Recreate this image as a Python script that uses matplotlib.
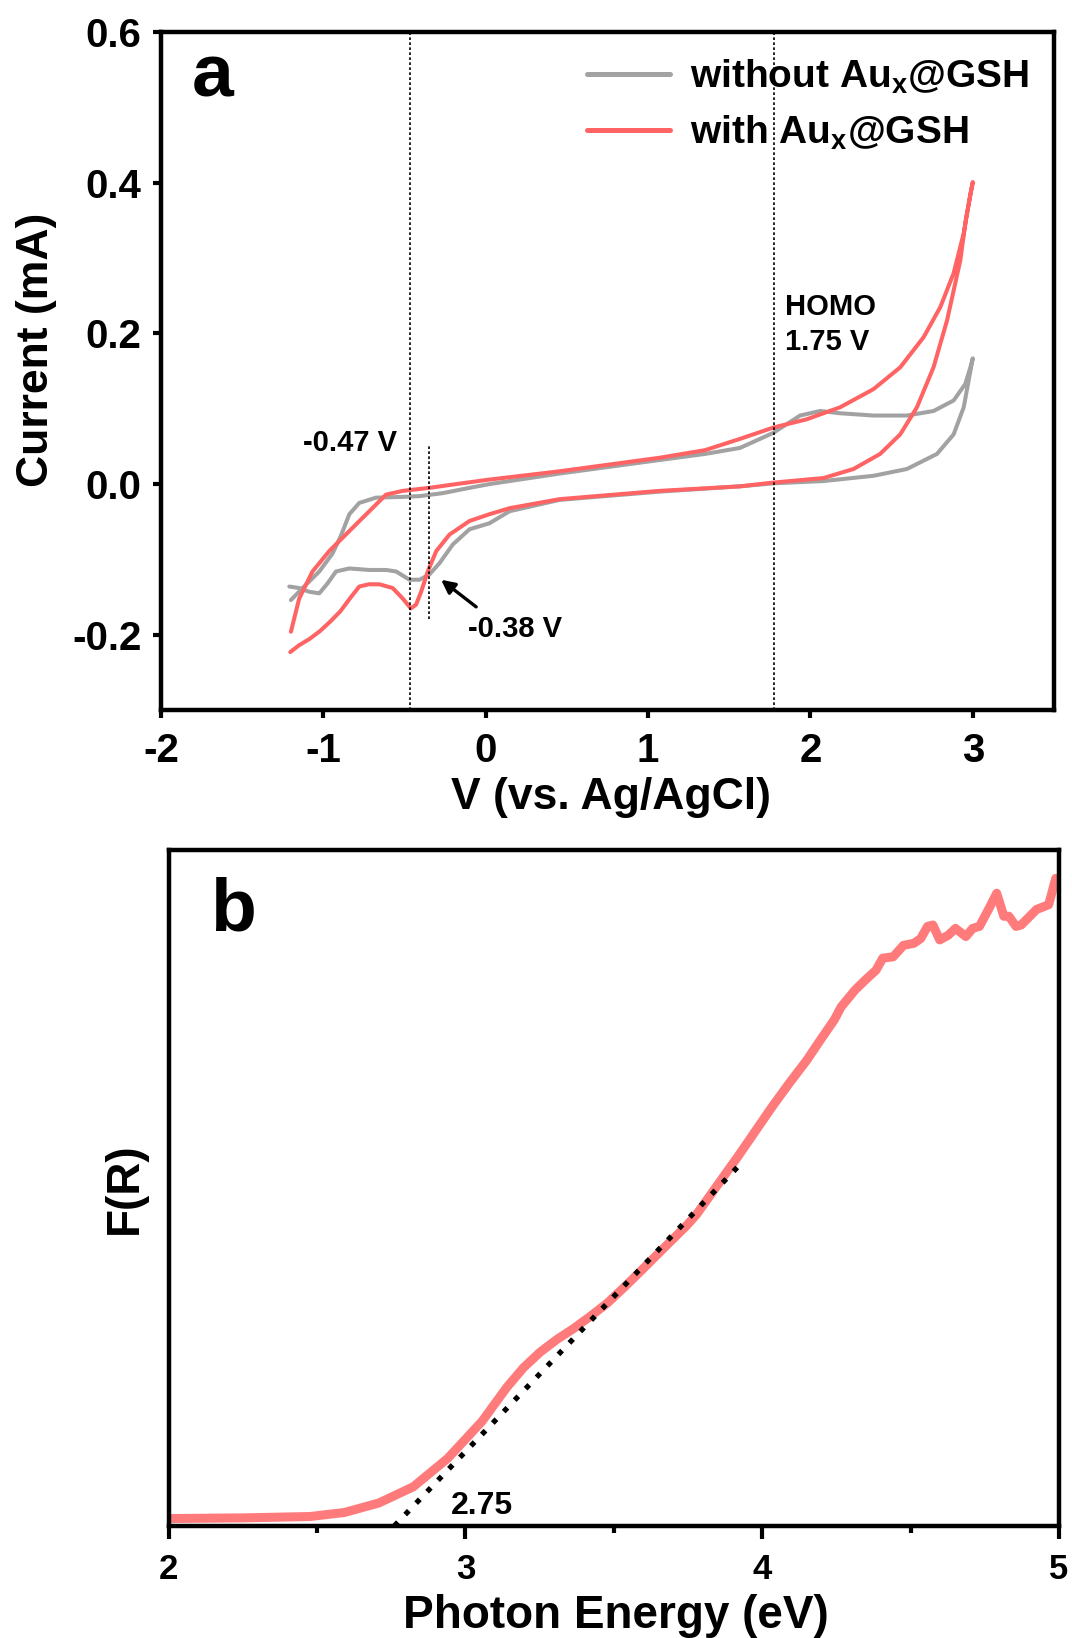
import matplotlib
matplotlib.use("Agg")
import matplotlib.pyplot as plt

plt.rcParams['font.family'] = ['Liberation Sans', 'DejaVu Sans']
plt.rcParams['font.weight'] = 'bold'
plt.rcParams['mathtext.fontset'] = 'custom'
plt.rcParams['mathtext.rm'] = 'Liberation Sans:bold'
plt.rcParams['mathtext.it'] = 'Liberation Sans:bold'
plt.rcParams['mathtext.bf'] = 'Liberation Sans:bold'

# ---------------- Panel a data: CV curves (V vs Ag/AgCl, current in mA) -------------
gray_fwd_v = [-1.200, -1.128, -1.025, -0.943, -0.891, -0.840, -0.779, -0.676, -0.511, -0.408,
              -0.264, -0.100, 0.023, 0.455, 1.072, 1.350, 1.566, 1.771, 1.936, 2.059, 2.183,
              2.388, 2.594, 2.758, 2.882, 2.954, 2.985, 3.000]
gray_fwd_i = [-0.154, -0.138, -0.116, -0.092, -0.068, -0.040, -0.025, -0.018, -0.017, -0.016,
              -0.012, -0.005, 0.000, 0.014, 0.032, 0.040, 0.048, 0.068, 0.091, 0.097, 0.094,
              0.091, 0.091, 0.097, 0.111, 0.133, 0.155, 0.167]
gray_rev_v = [3.000, 2.985, 2.944, 2.882, 2.779, 2.594, 2.388, 2.080, 1.771, 1.566, 1.072,
              0.455, 0.147, 0.023, -0.100, -0.202, -0.285, -0.347, -0.408, -0.470, -0.552,
              -0.614, -0.717, -0.840, -0.922, -0.975, -1.025, -1.087, -1.149, -1.210]
gray_rev_i = [0.167, 0.150, 0.102, 0.066, 0.040, 0.020, 0.011, 0.004, 0.001, -0.003, -0.010,
              -0.021, -0.036, -0.052, -0.060, -0.080, -0.105, -0.120, -0.127, -0.127, -0.116,
              -0.114, -0.114, -0.112, -0.116, -0.132, -0.145, -0.143, -0.138, -0.136]

red_fwd_v = [-1.200, -1.149, -1.067, -0.964, -0.820, -0.717, -0.614, -0.511, -0.347, -0.182,
             0.023, 0.455, 1.072, 1.350, 1.566, 1.771, 1.977, 2.183, 2.388, 2.553, 2.697,
             2.800, 2.882, 2.944, 2.985, 3.000]
red_fwd_i = [-0.196, -0.152, -0.116, -0.089, -0.058, -0.036, -0.014, -0.009, -0.005, 0.000,
             0.006, 0.017, 0.035, 0.045, 0.060, 0.075, 0.086, 0.102, 0.126, 0.155, 0.195,
             0.235, 0.280, 0.333, 0.385, 0.401]
red_rev_v = [3.000, 2.957, 2.923, 2.841, 2.758, 2.656, 2.553, 2.429, 2.265, 2.080, 1.771,
             1.566, 1.072, 0.455, 0.147, 0.023, -0.100, -0.223, -0.305, -0.357, -0.398,
             -0.429, -0.461, -0.511, -0.573, -0.655, -0.720, -0.779, -0.830, -0.896, -0.960,
             -1.020, -1.088, -1.150, -1.204]
red_rev_i = [0.401, 0.351, 0.297, 0.217, 0.155, 0.102, 0.066, 0.040, 0.020, 0.008, 0.002,
             -0.003, -0.009, -0.020, -0.032, -0.040, -0.049, -0.067, -0.089, -0.116, -0.143,
             -0.160, -0.165, -0.152, -0.138, -0.133, -0.133, -0.136, -0.150, -0.169, -0.183,
             -0.195, -0.206, -0.214, -0.223]

# ---------------- Panel b data: Kubelka-Munk F(R) vs photon energy ----------------
energy = [2.000, 2.250, 2.476, 2.592, 2.708, 2.824, 2.940, 3.056, 3.139, 3.195, 3.251, 3.308,
          3.364, 3.420, 3.476, 3.532, 3.588, 3.684, 3.742, 3.777, 3.917, 4.033, 4.091, 4.150,
          4.196, 4.243, 4.266, 4.313, 4.348, 4.383, 4.406, 4.441, 4.476, 4.511, 4.534, 4.557,
          4.575, 4.598, 4.627, 4.651, 4.686, 4.709, 4.732, 4.767, 4.790, 4.814, 4.831, 4.855,
          4.872, 4.895, 4.924, 4.965, 4.989, 5.000]
fr = [0.011, 0.012, 0.014, 0.020, 0.034, 0.058, 0.100, 0.155, 0.205, 0.234, 0.257, 0.276,
      0.292, 0.310, 0.329, 0.352, 0.376, 0.418, 0.443, 0.460, 0.546, 0.620, 0.655, 0.689,
      0.719, 0.749, 0.768, 0.793, 0.808, 0.822, 0.840, 0.842, 0.859, 0.862, 0.869, 0.887,
      0.889, 0.867, 0.874, 0.884, 0.872, 0.884, 0.887, 0.916, 0.936, 0.902, 0.902, 0.887,
      0.889, 0.899, 0.912, 0.919, 0.958, 0.953]
tangent_e = [2.760, 3.917]
tangent_f = [0.000, 0.531]

xticks_a = [-2, -1, 0, 1, 2, 3]
yticks_a = [-0.2, 0.0, 0.2, 0.4, 0.6]
xticks_b = [2, 3, 4, 5]
xminor_b = [2.5, 3.5, 4.5]

GRAY = '#a2a2a2'
RED = '#ff6363'
SALMON = '#ff7b7b'

fig = plt.figure(figsize=(10.72, 16.38), dpi=100)

# ---------------- Panel a ----------------
axa = fig.add_axes([0.1502, 0.5665, 0.8330, 0.4139])
axa.plot(gray_fwd_v + gray_rev_v[1:], gray_fwd_i + gray_rev_i[1:], color=GRAY, lw=2.9,
         label=r'without Au$_{x}$@GSH', solid_joinstyle='round', solid_capstyle='round')
axa.plot(red_fwd_v + red_rev_v[1:], red_fwd_i + red_rev_i[1:], color=RED, lw=2.9,
         label=r'with Au$_{x}$@GSH', solid_joinstyle='round', solid_capstyle='round')
dot = (0, (1.6, 1.4))
axa.axvline(-0.465, color='black', ls=dot, lw=1.2)
axa.axvline(1.777, color='black', ls=dot, lw=1.2)
axa.plot([-0.351, -0.351], [-0.179, 0.051], color='black', ls=dot, lw=1.2)
axa.set_xlim(-2, 3.5)
axa.set_ylim(-0.3, 0.6)
axa.set_xticks(xticks_a)
axa.set_xticklabels([f'{t:d}' for t in xticks_a])
axa.set_yticks(yticks_a)
axa.set_yticklabels([f'{t:.1f}' for t in yticks_a])
for s in axa.spines.values():
    s.set_linewidth(3.2)
axa.tick_params(direction='out', length=6, width=3, labelsize=29)
axa.tick_params(axis='x', pad=10)
axa.tick_params(axis='y', pad=8)
axa.set_xlabel('V (vs. Ag/AgCl)', fontsize=32, fontweight='bold')
axa.set_ylabel('Current (mA)', fontsize=32, fontweight='bold')
axa.xaxis.set_label_coords(0.504, -0.098)
axa.yaxis.set_label_coords(-0.117, 0.531)
axa.text(0.034, 0.934, 'a', transform=axa.transAxes, fontsize=54, fontweight='bold',
         va='center', ha='left')
axa.text(-0.544, 0.055, '-0.47 V', fontsize=21, fontweight='bold', ha='right', va='center')
axa.text(-0.112, -0.192, '-0.38 V', fontsize=21, fontweight='bold', ha='left', va='center')
axa.annotate('', xy=(-0.275, -0.127), xytext=(-0.059, -0.163),
             arrowprops=dict(arrowstyle='-|>', color='black', lw=2.4, mutation_scale=20,
                             shrinkA=0, shrinkB=0))
axa.text(1.843, 0.235, 'HOMO', fontsize=21, fontweight='bold', ha='left', va='center')
axa.text(1.843, 0.188, '1.75 V', fontsize=21, fontweight='bold', ha='left', va='center')
leg = axa.legend(loc='upper left', bbox_to_anchor=(0.477, 0.962), frameon=False,
                 fontsize=28, handlelength=2.13, handletextpad=0.53, labelspacing=0.45,
                 borderpad=0, borderaxespad=0)
for h in leg.get_lines():
    h.set_linewidth(3.6)

# ---------------- Panel b ----------------
axb = fig.add_axes([0.1574, 0.06838, 0.8305, 0.4127])
axb.plot(energy, fr, color=SALMON, lw=6.5, solid_joinstyle='round', solid_capstyle='butt')
axb.plot(tangent_e, tangent_f, color='black', lw=3.8, ls=(0, (1, 2)))
axb.set_xlim(2, 5)
axb.set_ylim(0, 1.0)
axb.set_xticks(xticks_b)
axb.set_xticklabels([str(t) for t in xticks_b])
axb.set_xticks(xminor_b, minor=True)
axb.set_yticks([])
for s in axb.spines.values():
    s.set_linewidth(3.2)
axb.tick_params(axis='x', which='major', direction='out', length=9.5, width=3, labelsize=25, pad=10)
axb.tick_params(axis='x', which='minor', direction='out', length=5, width=3)
axb.set_xlabel('Photon Energy (eV)', fontsize=33, fontweight='bold')
axb.set_ylabel('F(R)', fontsize=33, fontweight='bold')
axb.xaxis.set_label_coords(0.502, -0.100)
axb.yaxis.set_label_coords(-0.025, 0.50)
axb.text(0.046, 0.91, 'b', transform=axb.transAxes, fontsize=54, fontweight='bold',
         va='center', ha='left')
axb.text(2.95, 0.03, '2.75', fontsize=23, fontweight='bold', ha='left', va='center')

fig.savefig('out.png', dpi=100)
